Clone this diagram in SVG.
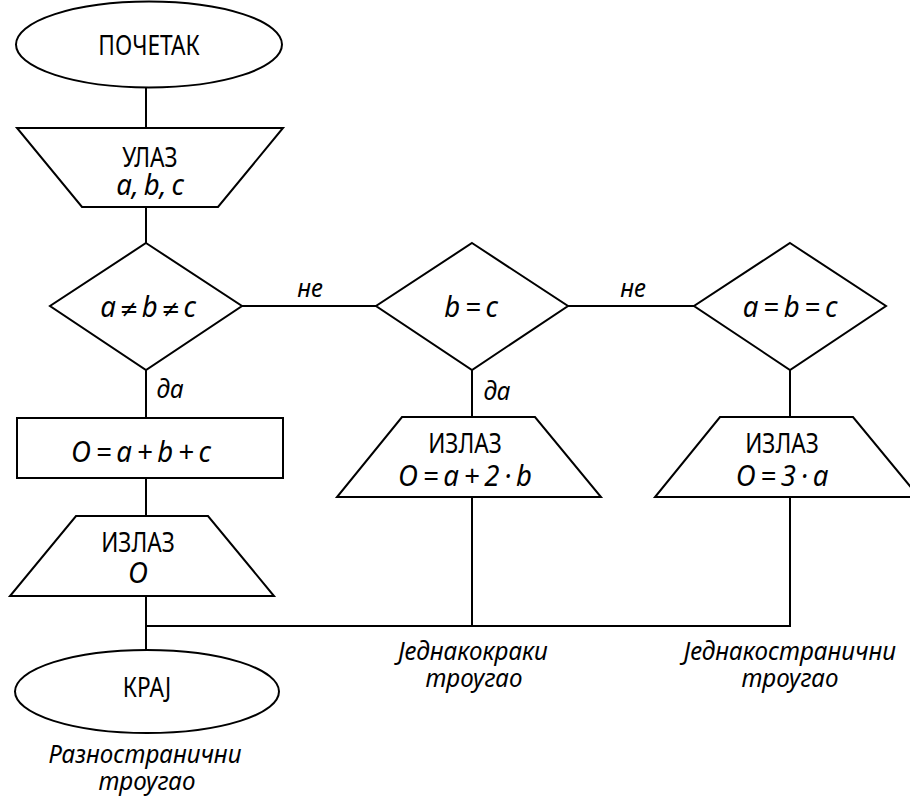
<svg xmlns="http://www.w3.org/2000/svg" width="910" height="800" viewBox="0 0 910 800">
  <style>
    .shape { fill: #ffffff; stroke: #000000; stroke-width: 2; }
    .wire { fill: none; stroke: #000000; stroke-width: 2; }
    text { font-family: "Noto Sans", "Open Sans", "DejaVu Sans", sans-serif; font-size: 27px; fill: #000000; stroke: none; text-anchor: middle; transform-box: fill-box; transform-origin: center; transform: scaleX(0.84); }
    .it { font-style: italic; font-size: 26px; transform: scaleX(0.93); }
    .m { font-style: italic; font-size: 29px; word-spacing: -2.5px; transform: scaleX(0.95); }
    .tight { word-spacing: -4px; }
    .op { font-family: "DejaVu Sans", sans-serif; font-style: normal; font-size: 24px; }
  </style>
  <rect width="910" height="800" fill="#ffffff"/>

  <!-- connectors -->
  <g id="connectors">
    <g class="wire">
      <line x1="146" y1="87" x2="146" y2="128"/>
      <line x1="146" y1="207" x2="146" y2="243"/>
      <line x1="146" y1="370" x2="146" y2="418"/>
      <line x1="146" y1="478" x2="146" y2="516"/>
      <line x1="146" y1="596" x2="146" y2="650"/>
      <line x1="242" y1="306" x2="376" y2="306"/>
      <line x1="568" y1="306" x2="695" y2="306"/>
      <line x1="472" y1="370" x2="472" y2="417"/>
      <line x1="790" y1="370" x2="790" y2="417"/>
      <polyline points="472,497 472,626"/>
      <polyline points="790,497 790,626 146,626"/>
    </g>
    <text class="it" x="310" y="297">не</text>
    <text class="it" x="633" y="297">не</text>
    <text class="it" x="170" y="398">да</text>
    <text class="it" x="497" y="400">да</text>
  </g>

  <g id="start">
    <ellipse class="shape" cx="149" cy="44.5" rx="133" ry="43"/>
    <text x="149" y="55">ПОЧЕТАК</text>
  </g>

  <g id="input">
    <polygon class="shape" points="17,128 283,128 218,207 82,207"/>
    <text x="150" y="167">УЛАЗ</text>
    <text class="m" x="150" y="195">a, b, c</text>
  </g>

  <g id="check-scalene">
    <polygon class="shape" points="146,243 242,306 146,370 50,306"/>
    <text class="m tight" x="148" y="317">a <tspan class="op">≠</tspan> b <tspan class="op">≠</tspan> c</text>
  </g>

  <g id="perimeter-scalene">
    <rect class="shape" x="17" y="418" width="266" height="60"/>
    <text class="m" x="141" y="462">O = a + b + c</text>
  </g>

  <g id="output-scalene">
    <polygon class="shape" points="76,516 208,516 274,596 10,596"/>
    <text x="138" y="552">ИЗЛАЗ</text>
    <text class="m" x="138" y="583">O</text>
  </g>

  <g id="end">
    <ellipse class="shape" cx="147" cy="691.5" rx="132" ry="41.5"/>
    <text x="147" y="697">КРАЈ</text>
    <text class="it" x="145" y="763">Разностранични</text>
    <text class="it" x="147" y="790">троугао</text>
  </g>

  <g id="check-isosceles">
    <polygon class="shape" points="472,243 568,306 472,370 376,306"/>
    <text class="m" x="471" y="317">b = c</text>
  </g>

  <g id="output-isosceles">
    <polygon class="shape" points="402,417 535,417 601,497 337,497"/>
    <text x="465" y="453">ИЗЛАЗ</text>
    <text class="m" x="465" y="486">O = a + 2 · b</text>
    <text class="it" x="473" y="660">Једнакокраки</text>
    <text class="it" x="474" y="687">троугао</text>
  </g>

  <g id="check-equilateral">
    <polygon class="shape" points="790,243 886,306 790,370 694,306"/>
    <text class="m" x="790" y="317">a = b = c</text>
  </g>

  <g id="output-equilateral">
    <polygon class="shape" points="720,417 853,417 919,497 655,497"/>
    <text x="782" y="453">ИЗЛАЗ</text>
    <text class="m" x="782" y="486">O = 3 · a</text>
    <text class="it" x="790" y="660">Једнакостранични</text>
    <text class="it" x="790" y="687">троугао</text>
  </g>
</svg>
